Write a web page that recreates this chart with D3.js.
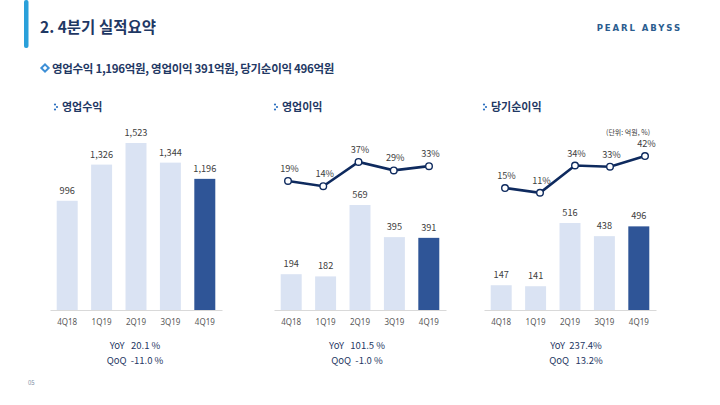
<!DOCTYPE html>
<html><head><meta charset="utf-8">
<script src="https://cdn.jsdelivr.net/npm/d3@7/dist/d3.min.js"></script>
<style>
html,body{margin:0;padding:0;background:#fff;}
svg{display:block;font-family:"Noto Sans CJK KR","Noto Sans",sans-serif;}
</style></head>
<body><svg id="c" width="720" height="405"></svg>
<script>
const quarters = ["4Q18","1Q19","2Q19","3Q19","4Q19"];
const revenue = [996,1326,1523,1344,1196];
const opProfit = [194,182,569,395,391];
const opMargin = [19,14,37,29,33];
const netIncome = [147,141,516,438,496];
const netMargin = [15,11,34,33,42];
const panelTitles = ["영업수익","영업이익","당기순이익"];
const yoyLabels = ["YoY   20.1 %","YoY   101.5 %","YoY  237.4%"];
const qoqLabels = ["QoQ  -11.0 %","QoQ  -1.0 %","QoQ   13.2%"];

const svg = d3.select("#c");
const navy = "#1f3864", light = "#dae3f3", dark = "#2f5597", lineC = "#0e2a5e";

// header
svg.append("rect").attr("x",24).attr("y",0).attr("width",4.5).attr("height",48).attr("rx",2).attr("fill","#2aa0da");
svg.append("text").attr("x",40).attr("y",33).attr("font-size",15.5).attr("font-weight",700).attr("fill",navy).text("2. 4분기 실적요약");
svg.append("text").attr("x",682).attr("y",31).attr("text-anchor","end").attr("font-size",9.5).attr("letter-spacing",1.9)
  .attr("font-family","'Liberation Sans Narrow','DejaVu Sans Condensed',sans-serif").attr("font-weight",700).attr("fill","#2b5d8f").text("PEARL ABYSS");
// subtitle
const dg = svg.append("g").attr("transform","translate(45,68)");
dg.append("rect").attr("x",-3.6).attr("y",-3.6).attr("width",7.2).attr("height",7.2).attr("transform","rotate(45)").attr("fill","#3d8fd6");
dg.append("rect").attr("x",-1.6).attr("y",-1.6).attr("width",3.2).attr("height",3.2).attr("transform","rotate(45)").attr("fill","#fff");
svg.append("text").attr("x",52).attr("y",72.5).attr("font-size",11.5).attr("font-weight",700).attr("fill",navy)
  .attr("letter-spacing",-0.3).text("영업수익 1,196억원, 영업이익 391억원, 당기순이익 496억원");

const panels = [
  {x0:50,  x1:222, vals:revenue,   max:1523, topPx:143, title:panelTitles[0], tx:55,  cx:135},
  {x0:274, x1:446, vals:opProfit,  max:569,  topPx:205, title:panelTitles[1], tx:275, cx:357, margin:opMargin, lr:[288,429], m0:201, mk:1.056},
  {x0:484, x1:656, vals:netIncome, max:516,  topPx:223, title:panelTitles[2], tx:484, cx:576, margin:netMargin, lr:[505,645], m0:205.8, mk:1.185}
];
const base = 310;

panels.forEach((p,pi)=>{
  const g = svg.append("g");
  [[0,-2.5],[2,0],[0,2.5]].forEach(d=>g.append("circle").attr("cx",p.tx+d[0]).attr("cy",107+d[1]).attr("r",1.1).attr("fill","#2a6fbf"));
  g.append("text").attr("x",p.tx+7).attr("y",111).attr("font-size",11).attr("font-weight",700).attr("fill",navy).text(p.title);

  const x = d3.scaleBand().domain(quarters).range([p.x0,p.x1]).paddingInner(0.39).paddingOuter(0.195);
  const y = d3.scaleLinear().domain([0,p.max]).range([base,p.topPx]);

  g.selectAll("rect.bar").data(p.vals).join("rect").attr("class","bar")
    .attr("x",(d,i)=>x(quarters[i])).attr("width",x.bandwidth())
    .attr("y",d=>y(d)).attr("height",d=>base-y(d))
    .attr("fill",(d,i)=>i===quarters.length-1?dark:light);
  g.selectAll("text.val").data(p.vals).join("text").attr("class","val")
    .attr("x",(d,i)=>x(quarters[i])+x.bandwidth()/2).attr("y",d=>y(d)-7)
    .attr("text-anchor","middle").attr("font-size",9.2).attr("fill","#404040")
    .text(d=>d3.format(",")(d));

  const ax = g.append("g").attr("transform",`translate(0,${base})`)
    .call(d3.axisBottom(x).tickSize(0).tickPadding(9));
  ax.select(".domain").attr("stroke","#d9d9d9").attr("stroke-width",1);
  ax.selectAll("text").attr("font-size",8).attr("fill","#595959").attr("font-family","'Noto Sans',sans-serif");

  if(p.margin){
    const lx = d3.scalePoint().domain(quarters).range(p.lr);
    const ly = d3.scaleLinear().domain([0,10]).range([p.m0,p.m0-10*p.mk]);
    const pts = p.margin.map((m,i)=>[lx(quarters[i]),ly(m)]);
    g.append("path").attr("d",d3.line()(pts)).attr("fill","none").attr("stroke",lineC).attr("stroke-width",2.6);
    g.selectAll("circle.m").data(pts).join("circle").attr("class","m")
      .attr("cx",d=>d[0]).attr("cy",d=>d[1]).attr("r",3.3).attr("fill","#fff").attr("stroke",lineC).attr("stroke-width",1.4);
    g.selectAll("text.mt").data(p.margin).join("text").attr("class","mt")
      .attr("x",(d,i)=>pts[i][0]+1.5).attr("y",(d,i)=>pts[i][1]-9)
      .attr("text-anchor","middle").attr("font-size",9.2).attr("fill","#404040")
      .text(d=>d+"%");
  }

  g.append("text").attr("x",p.cx).attr("y",348.5).attr("text-anchor","middle").attr("font-size",9.5).attr("fill",navy)
    .style("white-space","pre").text(yoyLabels[pi]);
  g.append("text").attr("x",p.cx).attr("y",363.5).attr("text-anchor","middle").attr("font-size",9.5).attr("fill",navy)
    .style("white-space","pre").text(qoqLabels[pi]);
});

svg.append("text").attr("x",650).attr("y",135).attr("text-anchor","end").attr("font-size",7).attr("fill","#404040").text("(단위: 억원, %)");
svg.append("text").attr("x",28).attr("y",385).attr("font-size",6).attr("fill","#7f8fa6").text("05");
</script></body></html>
